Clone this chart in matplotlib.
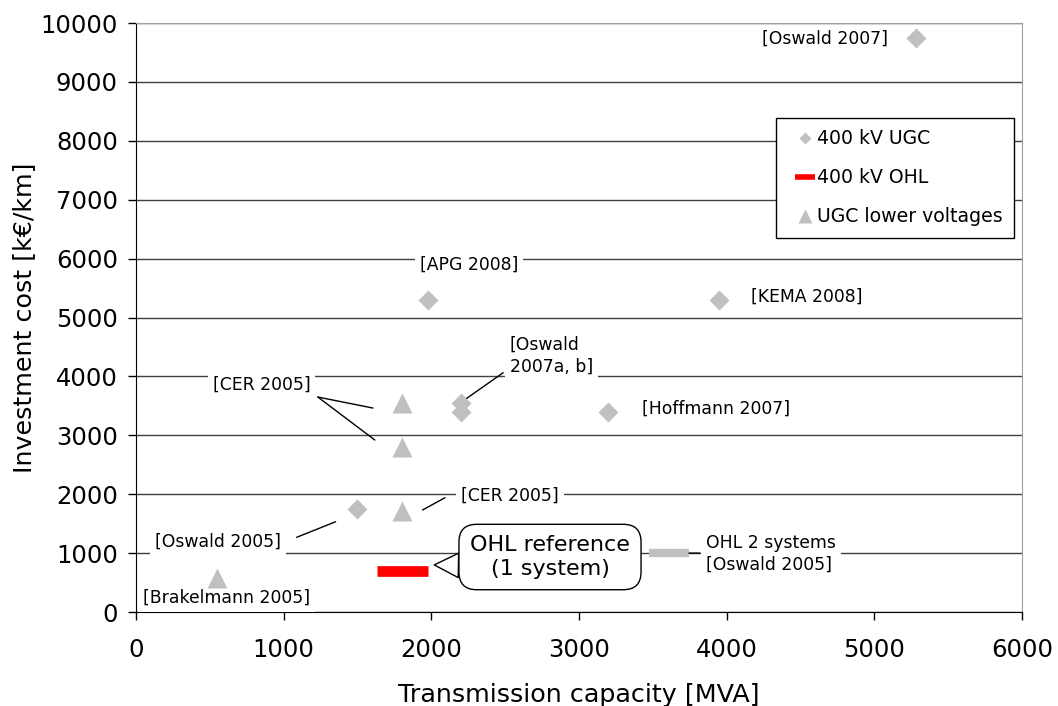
import numpy as np
import matplotlib.pyplot as plt
from matplotlib.lines import Line2D

# 400 kV underground cables
ugc400_x = [5280, 1980, 3950, 2200, 2200, 3200, 1500]
ugc400_y = [9750, 5300, 5300, 3550, 3400, 3400, 1750]
# underground cables, lower voltages
lowv_x = [1800, 1800, 1800, 550]
lowv_y = [3550, 2800, 1720, 580]
# overhead lines
ohl1_x = [1630, 1980]
ohl1_y = [700, 700]
ohl2_x = [3475, 3745]
ohl2_y = [1000, 1000]

grey = '#c0c0c0'
plt.rcParams['font.family'] = 'DejaVu Sans'

fig = plt.figure(figsize=(10.58, 7.06), dpi=100)
ax = fig.add_axes([0.1285, 0.1331, 0.8374, 0.8343])

ax.plot(ugc400_x, ugc400_y, ls='none', marker='D', ms=10.5, color=grey, mec='none', zorder=4)
ax.plot(lowv_x, lowv_y, ls='none', marker='^', ms=14.5, color=grey, mec='none', zorder=4)
ax.plot(ohl1_x, ohl1_y, color='red', lw=7.7, solid_capstyle='butt', zorder=4)
ax.plot(ohl2_x, ohl2_y, color=grey, lw=6, solid_capstyle='butt', zorder=4)

ax.set_xlim(0, 6000)
ax.set_ylim(0, 10000)
ax.set_xticks(range(0, 6001, 1000))
ax.set_yticks(range(0, 10001, 1000))
ax.tick_params(labelsize=17.5, length=6, width=1, direction='out')
ax.tick_params(axis='x', pad=13)
ax.tick_params(axis='y', pad=7)
ax.yaxis.grid(True, color='#404040', lw=1)
ax.set_axisbelow(True)
for s in ['top', 'right']:
    ax.spines[s].set_color('#a0a0a0')
ax.spines['left'].set_color('black')
ax.spines['bottom'].set_color('black')
ax.set_xlabel('Transmission capacity [MVA]', fontsize=18.3, labelpad=15)
ax.set_ylabel('Investment cost [k€/km]', fontsize=18.3, labelpad=3)

box = dict(fc='white', ec='none', pad=3.5)

def label(x, y, s, ha='left'):
    ax.text(x, y, s, ha=ha, va='center', fontsize=12.4, bbox=box, zorder=3,
            linespacing=1.3)

def leader(x0, y0, x1, y1):
    ax.annotate('', xy=(x1, y1), xytext=(x0, y0),
                arrowprops=dict(arrowstyle='-', lw=1, color='black',
                                shrinkA=0, shrinkB=0), zorder=5)

label(5090, 9730, '[Oswald 2007]', ha='right')
label(1923, 5890, '[APG 2008]')
label(4165, 5350, '[KEMA 2008]')
label(2533, 4355, '[Oswald\n2007a, b]')
label(521, 3854, '[CER 2005]')
label(3427, 3447, '[Hoffmann 2007]')
label(2201, 1969, '[CER 2005]')
label(129, 1188, '[Oswald 2005]')
label(47, 238, '[Brakelmann 2005]')
label(3860, 985, 'OHL 2 systems\n[Oswald 2005]')

leader(1232, 3650, 1605, 3463)
leader(1232, 3650, 1618, 2920)
leader(2240, 3628, 2487, 4063)
leader(1941, 1732, 2093, 1941)
leader(1088, 1268, 1352, 1533)
leader(ohl2_x[1], ohl2_y[1], 3819, 1000)

ax.annotate('OHL reference\n(1 system)', xy=(2020, 800), xytext=(2804, 934),
            ha='center', va='center', fontsize=16, zorder=6,
            bbox=dict(boxstyle='round,pad=0.5,rounding_size=0.8', fc='white',
                      ec='black', lw=1),
            arrowprops=dict(arrowstyle='wedge,tail_width=1.1,shrink_factor=0.5',
                            fc='white', ec='black', lw=1, shrinkA=0, shrinkB=0,
                            relpos=(0.02, 0.3)))

handles = [
    Line2D([], [], ls='none', marker='D', ms=6.5, color=grey, mec='none'),
    Line2D([], [], ls='none', marker='_', ms=14, mew=4, color='red'),
    Line2D([], [], ls='none', marker='^', ms=10, color=grey, mec='none'),
]
names = ['400 kV UGC', '400 kV OHL', 'UGC lower voltages']
leg = fig.legend(handles, names, loc='upper right',
                 bbox_to_anchor=(1014 / 1058, 1 - 118 / 706),
                 bbox_transform=fig.transFigure, fontsize=13.6, fancybox=False,
                 framealpha=1, edgecolor='black', handlelength=1.8,
                 handletextpad=-0.25, labelspacing=1.06, borderpad=0.6,
                 borderaxespad=0)
leg.get_frame().set_linewidth(1)

fig.savefig('out.png', dpi=100)
